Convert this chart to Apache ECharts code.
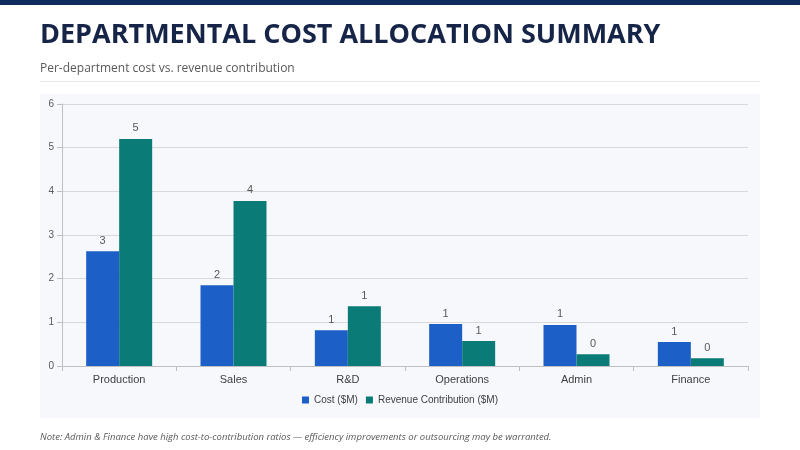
<!DOCTYPE html>
<html><head><meta charset="utf-8">
<script src="https://cdn.jsdelivr.net/npm/echarts@6/dist/echarts.min.js"></script>
<style>body{margin:0;background:#fff}#c{width:800px;height:450px}</style>
</head><body><div id="c"></div>
<script>
const departments = ['Production', 'Sales', 'R&D', 'Operations', 'Admin', 'Finance'];
const costValues = [2.63, 1.85, 0.82, 0.96, 0.94, 0.55];
const revenueValues = [5.2, 3.78, 1.37, 0.57, 0.27, 0.18];

const chart = echarts.init(document.getElementById('c'));
const barLabel = {
    show: true, position: 'top', color: '#595959', fontSize: 11,
    formatter: p => Math.round(p.value)
};
chart.setOption({
    graphic: [
        { type: 'rect', shape: { x: 0, y: 0, width: 800, height: 5 }, style: { fill: '#0f2a5c' } },
        { type: 'text', left: 40, top: 22, style: { text: 'DEPARTMENTAL COST ALLOCATION SUMMARY', font: 'bold 27px "Open Sans", sans-serif', fill: '#152447' } },
        { type: 'text', left: 40, top: 63, style: { text: 'Per-department cost vs. revenue contribution', font: '12px "Open Sans", sans-serif', fill: '#595959' } },
        { type: 'rect', shape: { x: 40, y: 81, width: 720, height: 1 }, style: { fill: '#e6e8ee' } },
        { type: 'rect', z: -10, shape: { x: 40, y: 94, width: 720, height: 324 }, style: { fill: '#f7f8fc' } },
        { type: 'text', left: 40, top: 432, style: { text: 'Note: Admin & Finance have high cost-to-contribution ratios \u2014 efficiency improvements or outsourcing may be warranted.', font: 'italic 9.5px "Open Sans", sans-serif', fill: '#595959' } }
    ],
    grid: { left: 62, right: 52, top: 104, bottom: 84 },
    legend: {
        bottom: 40, itemWidth: 7, itemHeight: 7, icon: 'rect',
        textStyle: { fontSize: 10, color: '#404040' }
    },
    xAxis: {
        type: 'category', data: departments,
        axisLine: { lineStyle: { color: '#bfbfbf' } },
        axisTick: { show: true, lineStyle: { color: '#bfbfbf' } },
        axisLabel: { color: '#404040', fontSize: 11 }
    },
    yAxis: {
        type: 'value', min: 0, max: 6, interval: 1,
        axisLine: { show: true, lineStyle: { color: '#bfbfbf' } },
        axisTick: { show: true },
        axisLabel: { color: '#595959', fontSize: 10 },
        splitLine: { lineStyle: { color: '#d9d9d9' } }
    },
    series: [
        { name: 'Cost ($M)', type: 'bar', data: costValues, barWidth: 33, barGap: '0%', itemStyle: { color: '#1c5fc7' }, label: barLabel },
        { name: 'Revenue Contribution ($M)', type: 'bar', data: revenueValues, barWidth: 33, itemStyle: { color: '#0b7b78' }, label: barLabel }
    ]
});
</script></body></html>
